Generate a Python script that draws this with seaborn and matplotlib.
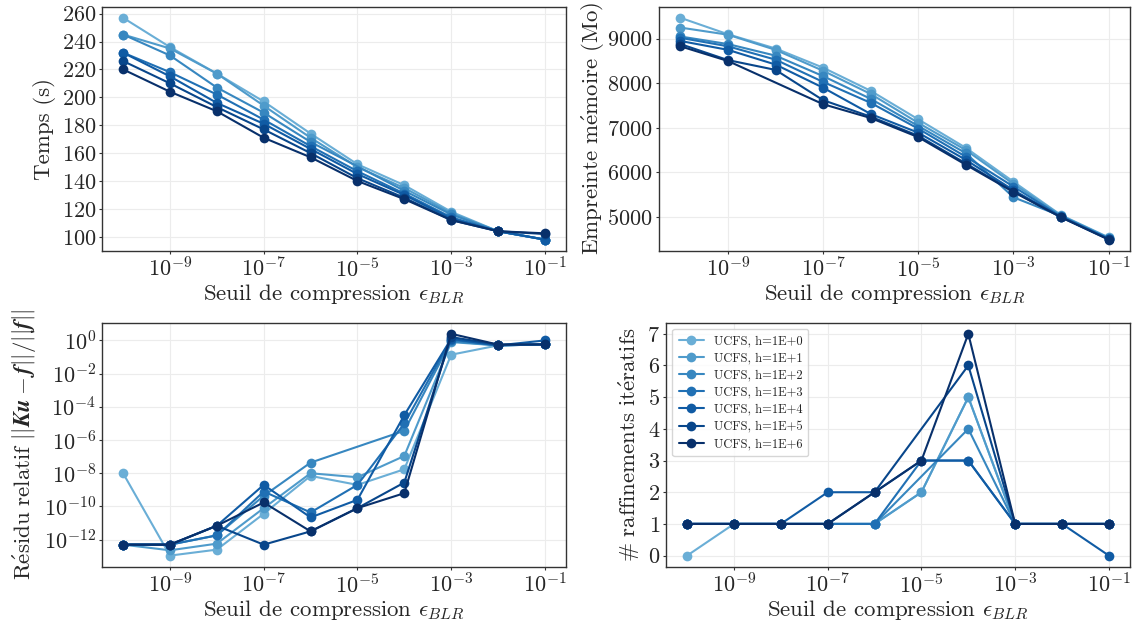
import numpy as np
import pandas as pd
import matplotlib
matplotlib.use("Agg")
import matplotlib.pyplot as plt
import matplotlib.ticker as mticker
import seaborn as sns

# ---------------- data ----------------
eps = [1e-10, 1e-9, 1e-8, 1e-7, 1e-6, 1e-5, 1e-4, 1e-3, 1e-2, 1e-1]
series = ["UCFS, h=1E+0", "UCFS, h=1E+1", "UCFS, h=1E+2", "UCFS, h=1E+3",
          "UCFS, h=1E+4", "UCFS, h=1E+5", "UCFS, h=1E+6"]
nan = np.nan

temps = [
    [257, 236, 217, 197, 174, 152, 137, 118, 104, 98],
    [245, 235, 217, 194, 171, 150, 135, 117, 104, 98],
    [245, 230, 207, 189, 168, nan, 133, 116, 104, 98],
    [232, 218, 202, 184, 165, 147, 131, 114, 104, 98],
    [232, 215, 196, 181, 163, 145, 130, 113, 104, 98],
    [226, 210, 193, 177, 160, 142, 128, 112, 104, 102],
    [220, 204, 190, 171, 157, 140, 127, 112, 104, 102.5],
]
memoire = [
    [9470, 9100, 8780, 8350, 7830, 7190, 6550, 5790, 5040, 4540],
    [9250, 9090, 8750, 8280, 7760, 7110, 6500, 5740, 5030, 4530],
    [9050, 8880, 8620, 8160, 7650, nan, 6430, 5440, 5020, 4520],
    [9020, 8830, 8530, 8030, 7560, 6980, 6350, 5680, 5010, 4510],
    [8950, 8750, 8420, 7900, 7310, 6890, 6280, 5600, 5000, 4500],
    [8880, 8520, 8300, 7620, 7250, 6820, 6200, 5570, 4995, 4500],
    [8830, 8500, nan, 7530, 7220, 6790, 6170, 5560, 4990, 4490],
]
residu_log10 = [
    [-8.0, -12.96, -12.6, -10.44, -8.16, -8.7, -7.76, -0.86, -0.3, -0.24],
    [-12.3, -12.64, -12.24, -10.1, -8.0, -8.24, -6.96, -0.1, -0.3, -0.24],
    [-12.3, -12.3, -11.74, -9.36, -7.36, nan, -5.44, -0.05, -0.3, -0.24],
    [-12.3, -12.3, -11.74, -9.1, -10.36, -8.7, -5.0, 0.05, -0.3, -0.24],
    [-12.3, -12.3, -11.16, -8.7, -10.66, -9.6, -4.5, 0.1, -0.3, 0.0],
    [-12.3, -12.3, -11.16, -12.3, -11.5, -10.1, -8.56, 0.2, -0.25, -0.24],
    [-12.3, -12.3, -11.16, -9.76, -11.5, -10.1, -9.2, 0.4, -0.25, -0.24],
]
raffinements = [
    [0, 1, 1, 1, 1, 2, 5, 1, 1, 1],
    [1, 1, 1, 1, 1, 2, 5, 1, 1, 1],
    [1, 1, 1, 1, 1, nan, 4, 1, 1, 1],
    [1, 1, 1, 1, 1, 3, 3, 1, 1, 1],
    [1, 1, 1, 2, 2, 3, 3, 1, 1, 0],
    [1, 1, 1, 1, 2, nan, 6, 1, 1, 1],
    [1, 1, 1, 1, 2, 3, 7, 1, 1, 1],
]

# ---------------- style ----------------
sns.set_theme(style="white")
plt.rcParams["font.family"] = ["cmr10", "DejaVu Serif"]
plt.rcParams["mathtext.fontset"] = "cm"
plt.rcParams["axes.formatter.use_mathtext"] = True
plt.rcParams["axes.unicode_minus"] = False

palette = [matplotlib.colors.to_hex(c) for c in plt.cm.Blues(np.linspace(0.5, 1.0, 7))]


def long_df(values):
    rows = []
    for name, vals in zip(series, values):
        for x, v in zip(eps, vals):
            rows.append({"eps": x, "val": v, "serie": name})
    return pd.DataFrame(rows)


fig = plt.figure(figsize=(11.37, 6.31), dpi=100)
W, H = 1137, 631


def add_ax(l, t, r, b):
    return fig.add_axes([l / W, 1 - b / H, (r - l) / W, (b - t) / H])


ax1 = add_ax(102, 6.7, 566, 250.7)
ax2 = add_ax(659, 6.7, 1130, 250.7)
ax3 = add_ax(102, 322.7, 566, 566.7)
ax4 = add_ax(666, 322.7, 1130, 566.7)

TICK = 16
LAB = 16.5

panels = [
    (ax1, long_df(temps), "Temps (s)"),
    (ax2, long_df(memoire), r"$\mathrm{Empreinte\ m\acute{e}moire\ (Mo)}$"),
    (ax3, long_df([[10 ** v for v in row] for row in residu_log10]),
     r"$\mathrm{R\acute{e}sidu\ relatif}\ ||\mathbfit{K u}-\mathbfit{f}||/||\mathbfit{f}||$"),
    (ax4, long_df(raffinements), r"$\mathrm{\#\ raffinements\ it\acute{e}ratifs}$"),
]

for i, (ax, df, ylab) in enumerate(panels):
    sns.lineplot(data=df, x="eps", y="val", hue="serie", palette=palette,
                 marker="o", markersize=7, markeredgewidth=0, linewidth=1.5,
                 errorbar=None, ax=ax, legend=(i == 3))
    ax.set_xscale("log")
    if i == 2:
        ax.set_yscale("log")
        ax.yaxis.set_major_locator(mticker.FixedLocator([10.0 ** k for k in range(-12, 1, 2)]))
        ax.yaxis.set_minor_locator(mticker.NullLocator())
    ax.xaxis.set_major_locator(mticker.FixedLocator([1e-9, 1e-7, 1e-5, 1e-3, 1e-1]))
    ax.xaxis.set_major_formatter(mticker.LogFormatterSciNotation())
    ax.xaxis.set_minor_locator(mticker.NullLocator())
    ax.set_xlabel(r"Seuil de compression $\epsilon_{BLR}$", fontsize=LAB, labelpad=1)
    ax.set_ylabel(ylab, fontsize=LAB, labelpad=4)
    ax.grid(True, color="#ececec", linewidth=0.8)
    ax.set_axisbelow(True)
    ax.tick_params(axis="both", which="major", labelsize=TICK, direction="out",
                   length=2.5, width=0.8, pad=1.8, bottom=True, left=True,
                   color="#333333")
    for s in ax.spines.values():
        s.set_color("#333333")
        s.set_linewidth(1.0)

ax2.yaxis.labelpad = 0

ax1.set_yticks([100, 120, 140, 160, 180, 200, 220, 240, 260])
ax2.set_yticks([5000, 6000, 7000, 8000, 9000])
ax4.set_yticks(range(0, 8))

leg = ax4.legend(loc="upper left", fontsize=9, frameon=True, title=None,
                 handlelength=2.0, borderpad=0.5, labelspacing=0.4)
leg.get_frame().set_edgecolor("#cccccc")

fig.savefig("out.png", dpi=100)
